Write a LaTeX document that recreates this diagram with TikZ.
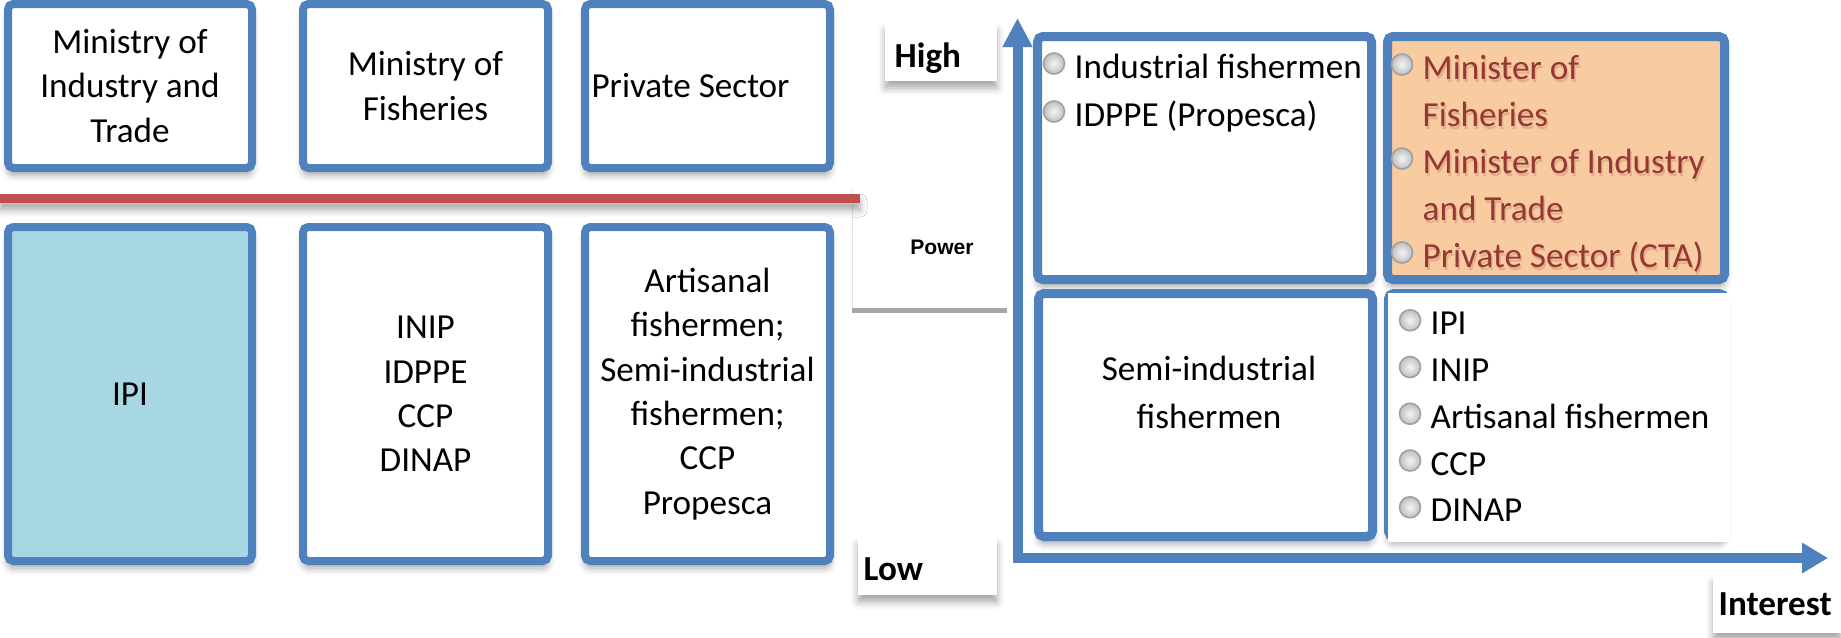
\documentclass[tikz,border=0pt]{standalone}
\usepackage{fontspec}
\setmainfont{Carlito}
\newfontfamily\labelfont{Liberation Sans}
\usetikzlibrary{arrows.meta, positioning, shadows.blur}

\definecolor{frameblue}{RGB}{79,129,189}
\definecolor{splitred}{RGB}{192,80,77}
\definecolor{ipiblue}{RGB}{166,215,227}
\definecolor{peach}{RGB}{249,203,160}
\definecolor{keyred}{RGB}{149,55,53}
\definecolor{rulegray}{RGB}{166,166,166}

\tikzset{
  softshadow/.style={blur shadow={shadow xshift=0pt, shadow yshift=-0.07cm, shadow blur radius=0.07cm, shadow opacity=35}},
  actor/.style={draw=frameblue, line width=0.08cm, fill=white, rounded corners=1.5pt, inner sep=0pt, align=center, softshadow},
  quad/.style={draw=frameblue, line width=0.09cm, fill=white, rounded corners=1.5pt, inner sep=0pt, softshadow},
  item/.style={inner sep=0pt, anchor=base west},
  dot/.style={circle, inner sep=0pt, minimum size=0.21cm, draw=gray!75, line width=0.45pt, shading=radial, inner color=gray!8, outer color=gray!50},
  tag/.style={fill=white, inner sep=0pt, softshadow},
  tagtext/.style={inner sep=0pt, anchor=base west, font=\fontsize{10}{12}\selectfont\bfseries},
  axis/.style={draw=frameblue, line width=0.1cm, arrows={Triangle[width=0.28cm,length=0.29cm]-Triangle[width=0.29cm,length=0.26cm]}}
}

\begin{document}
\begin{tikzpicture}[font=\fontsize{10}{12.6}\selectfont]
\useasboundingbox (0,0) rectangle (18.41,6.37);

% ministries and private sector above the divider
\node[actor, minimum width=2.44cm, minimum height=1.64cm] (mit) at (1.30,5.51) {Ministry of\\Industry and\\Trade};
\node[actor, minimum width=2.45cm, minimum height=1.64cm] (mof) at (4.255,5.51) {Ministry of\\Fisheries};
\node[actor, minimum width=2.45cm, minimum height=1.64cm] (priv) at (7.075,5.51) {};
\node[inner sep=0pt] (privText) at ([xshift=-0.17cm]priv.center) {Private Sector};

% power panel, the red divider runs into it
\node[fill=white, inner sep=0pt, minimum width=1.53cm, minimum height=1.22cm] (powerBox) at (9.295,3.86) {};
\draw[gray!20, line width=0.3pt] (powerBox.south west) -- (powerBox.north west);
\draw[rulegray, line width=0.05cm] ([yshift=0.025cm]powerBox.south west) -- ([yshift=0.025cm]powerBox.south east);
\node[font=\labelfont\fontsize{6}{7}\selectfont\bfseries, inner sep=0pt] (power) at (9.42,3.895) {Power};
\node[fill=splitred, inner sep=0pt, minimum width=8.60cm, minimum height=0.09cm, softshadow] (divider) at (4.30,4.385) {};

% institutions below the divider
\node[actor, fill=ipiblue, minimum width=2.44cm, minimum height=3.34cm] (ipi) at (1.30,2.43) {IPI};
\node[actor, minimum width=2.45cm, minimum height=3.34cm] (inst) at (4.255,2.43) {INIP\\IDPPE\\CCP\\DINAP};
\node[actor, minimum width=2.45cm, minimum height=3.34cm] (fish) at (7.075,2.43) {Artisanal\\fishermen;\\Semi-industrial\\fishermen;\\CCP\\Propesca};

% axis tags
\node[tag, minimum width=1.12cm, minimum height=0.57cm] (highBox) at (9.41,5.845) {};
\node[tagtext] (high) at (8.94,5.70) {High};
\node[tag, minimum width=1.39cm, minimum height=0.57cm] (lowBox) at (9.275,0.705) {};
\node[tagtext] (low) at (8.63,0.57) {Low};
\node[tag, minimum width=1.28cm, minimum height=0.57cm] (interestBox) at (17.77,0.325) {};
\node[tagtext] (interest) at (17.18,0.22) {Interest};

% power/interest grid
\node[quad, minimum width=3.34cm, minimum height=2.43cm] (hpli) at (12.045,4.79) {};
\node[quad, fill=peach, minimum width=3.37cm, minimum height=2.43cm] (hphi) at (15.56,4.79) {};
\node[quad, minimum width=3.34cm, minimum height=2.43cm] (lpli) at (12.055,2.22) {};
\node[quad, fill=frameblue, minimum width=3.36cm, minimum height=2.43cm] (lphi) at (15.565,2.22) {};
\fill[white] ([shift={(0.035,-0.035)}]lphi.north west) rectangle ([shift={(0.005,-0.005)}]lphi.south east);

\foreach \t [count=\i] in {Industrial fishermen, IDPPE (Propesca)}
  \node[item] (tl\i) at (10.74,{6.07-0.48*\i}) {\t};
% key players get a soft shadow under their names
\foreach \t [count=\i] in {Minister of, Fisheries, Minister of Industry, and Trade, Private Sector (CTA)} {
  \node[item, text=keyred!80!black, opacity=0.18] (trs\i) at (14.235,{6.02-0.47*\i}) {\t};
  \node[item, text=keyred] (tr\i) at (14.22,{6.05-0.47*\i}) {\t};
}
\foreach \t [count=\i] in {IPI, INIP, Artisanal fishermen, CCP, DINAP}
  \node[item] (br\i) at (14.30,{3.49-0.4675*\i}) {\t};
\foreach \n in {tl1, tl2, tr1, tr3, tr5, br1, br2, br3, br4, br5}
  \node[dot] at ([xshift=-0.2cm, yshift=0.145cm]\n.base west) {};

\node[align=center, font=\fontsize{10}{13.5}\selectfont] (semi) at (12.09,2.445) {Semi-industrial\\fishermen};

% axes
\coordinate (origin) at (10.175,0.79);
\coordinate (powerTip) at (10.175,6.19);
\coordinate (interestTip) at (18.28,0.79);
\draw[axis] (powerTip) -- (origin) -- (interestTip);
\end{tikzpicture}
\end{document}
